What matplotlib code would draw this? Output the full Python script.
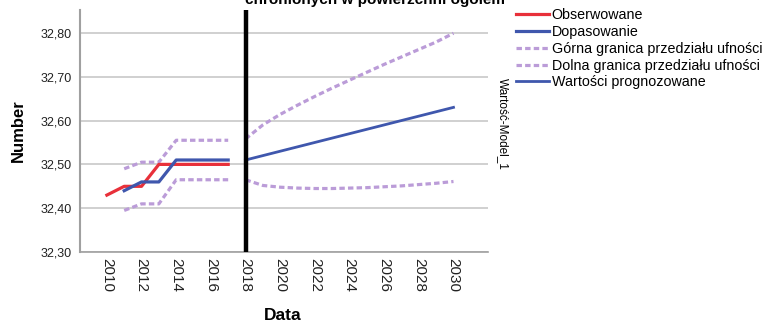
import matplotlib.pyplot as plt
from matplotlib.ticker import FuncFormatter

plt.rcParams['font.family'] = ['Liberation Sans', 'DejaVu Sans']

years_obs = [2010, 2011, 2012, 2013, 2014, 2015, 2016, 2017]
observed = [32.43, 32.45, 32.45, 32.50, 32.50, 32.50, 32.50, 32.50]

years_fit = [2011, 2012, 2013, 2014, 2015, 2016, 2017]
fitted = [32.44, 32.46, 32.46, 32.51, 32.51, 32.51, 32.51]
fit_upper = [32.49, 32.505, 32.505, 32.555, 32.555, 32.555, 32.555]
fit_lower = [32.395, 32.41, 32.41, 32.465, 32.465, 32.465, 32.465]

years_fc = [2018, 2019, 2020, 2021, 2022, 2023, 2024, 2025, 2026, 2027, 2028, 2029, 2030]
forecast = [32.51, 32.52, 32.53, 32.54, 32.55, 32.56, 32.57, 32.58, 32.59, 32.60, 32.61, 32.62, 32.63]
fc_upper = [32.558, 32.59, 32.614, 32.635, 32.655, 32.674, 32.692, 32.71, 32.728, 32.745, 32.762, 32.779, 32.799]
fc_lower = [32.465, 32.452, 32.448, 32.446, 32.445, 32.445, 32.446, 32.447, 32.449, 32.451, 32.454, 32.457, 32.461]

xticks = list(range(2010, 2031, 2))
yticks = [32.30, 32.40, 32.50, 32.60, 32.70, 32.80]

red = '#e8303a'
blue = '#3f57ad'
purple = '#bb9cd8'
dots = (0, (1.7, 1.0))

fig = plt.figure(figsize=(7.73, 3.22), dpi=100)
ax = fig.add_axes([0.1035, 0.217, 0.528, 0.752])

ax.plot(years_obs, observed, color=red, lw=2.3, label='Obserwowane', zorder=4)
ax.plot(years_fit, fitted, color=blue, lw=2.3, label='Dopasowanie', zorder=5)
ax.plot(years_fit, fit_upper, color=purple, lw=2.3, ls=dots, label='Górna granica przedziału ufności')
ax.plot(years_fit, fit_lower, color=purple, lw=2.3, ls=dots, label='Dolna granica przedziału ufności')
ax.plot(years_fc, forecast, color=blue, lw=2.0, label='Wartości prognozowane', zorder=5)
ax.plot(years_fc, fc_upper, color=purple, lw=2.3, ls=dots)
ax.plot(years_fc, fc_lower, color=purple, lw=2.3, ls=dots)

ax.axvline(2018, color='black', lw=3.2, zorder=6)

ax.set_xlim(2008.45, 2032.0)
ax.set_ylim(32.30, 32.852)
ax.set_yticks(yticks)
ax.yaxis.set_major_formatter(FuncFormatter(lambda v, p: ('%.2f' % v).replace('.', ',')))
ax.set_xticks(xticks)
ax.set_xticklabels([str(x) for x in xticks], rotation=-90, fontsize=11, color='#222222')
ax.tick_params(axis='y', labelsize=9, length=0, pad=6, colors='#222222')
ax.tick_params(axis='x', length=0, pad=4)
ax.grid(True, axis='y', color='#c8c8c8', lw=1.2)
ax.set_axisbelow(True)
for s in ['top', 'right']:
    ax.spines[s].set_visible(False)
ax.spines['left'].set_color('#a0a0a0')
ax.spines['left'].set_linewidth(1.5)
ax.spines['bottom'].set_color('#a0a0a0')
ax.spines['bottom'].set_linewidth(1.2)

ax.set_xlabel('Data', fontsize=12.5, fontweight='bold')
ax.set_ylabel('Number', fontsize=12, fontweight='bold')
ax.xaxis.set_label_coords((283 - 80) / 408, -(315 - 252) / 242)
ax.yaxis.set_label_coords(-(80 - 18) / 408, (252 - 131) / 242)
ax.xaxis.label.set_va('center')
ax.yaxis.label.set_va('center')

fig.text(375 / 773, 1 - 4 / 322, 'Udział obszarów prawnie\nchronionych w powierzchni ogółem',
         ha='center', va='baseline', fontsize=11, fontweight='bold')

fig.text(503 / 773, 1 - 78 / 322, 'Wartość-Model_1', rotation=-90, ha='center', va='top',
         fontsize=8.5)

fig.legend(loc='upper left', bbox_to_anchor=(516 / 773, 1 - 8 / 322), frameon=False,
           fontsize=10.3, handlelength=2.3, handletextpad=0.2, labelspacing=0.2,
           borderaxespad=0, borderpad=0)

fig.savefig('out.png', dpi=100)
